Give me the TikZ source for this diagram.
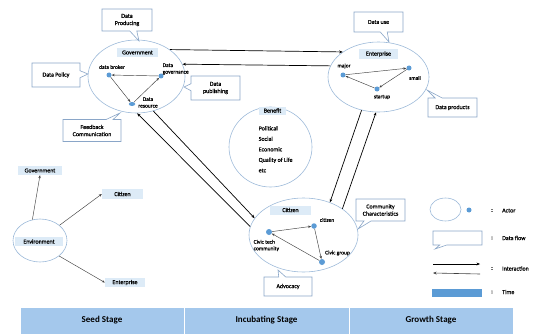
\documentclass[tikz,border=0pt]{standalone}
\usepackage{fontspec}
\setmainfont{Carlito}
\newfontfamily\heavy{Carlito}[FakeBold=0.6]
\usetikzlibrary{shapes.geometric,shapes.callouts,arrows.meta}

\definecolor{ringblue}{HTML}{9DBAD9}
\definecolor{boxline}{HTML}{8AA6C8}
\definecolor{tagfill}{HTML}{DDEBF7}
\definecolor{dotblue}{HTML}{5B9BD5}
\definecolor{bandblue}{HTML}{A4C8EC}
\definecolor{linkgray}{HTML}{404040}

\tikzset{
  actor/.style={ellipse, draw=ringblue, line width=0.6pt, inner sep=0pt},
  tag/.style={fill=tagfill, inner sep=0pt, font=\heavy\fontsize{6}{7}\selectfont},
  agent/.style={circle, fill=dotblue, inner sep=0pt, minimum size=5pt},
  small/.style={font=\heavy\fontsize{5.5}{6.6}\selectfont, inner sep=0pt},
  flowbox/.style={rectangle callout, draw=boxline, fill=white, line width=0.6pt,
    callout pointer width=7pt, align=center, font=\heavy\fontsize{6}{7.2}\selectfont, inner sep=0pt},
  link/.style={draw=linkgray, line width=0.45pt, -{Stealth[length=3pt,width=2.4pt]}},
  interact/.style={draw=black, line width=0.7pt, -{Stealth[length=3.5pt,width=2.8pt]}},
  stagebox/.style={fill=bandblue, draw=white, line width=0.8pt, minimum height=27pt,
    minimum width=165pt, inner sep=0pt, font=\fontsize{9}{10}\selectfont\bfseries},
  legendtxt/.style={font=\heavy\fontsize{6}{7}\selectfont, inner sep=0pt, anchor=west},
}

\begin{document}
\begin{tikzpicture}[x=1pt, y=-1pt]
\useasboundingbox (0,0) rectangle (534,334);

% ---------- Government ----------
\node[actor, minimum width=97pt, minimum height=73pt] (gov) at (136.5,76.5) {};
\node[tag, minimum width=41pt, minimum height=9pt] (govtag) at (137.5,52.5) {Government};
\node[agent] (broker) at (109,75) {};
\node[agent, ellipse, minimum width=6.5pt, minimum height=4pt] (resource) at (132,104) {};
\node[agent] (governance) at (161,76) {};
\node[small] (brokerlbl) at (112,67) {data broker};
\node[small, anchor=west, align=left] (govlbl) at (162.5,69) {Data\\governance};
\node[small, align=center] (reslbl) at (148,102.5) {Data\\resource};
\draw[link] (broker) -- (resource);
\draw[link] (resource) -- (governance);
\draw[link] (governance) -- (broker);

% ---------- Enterprise ----------
\node[actor, minimum width=101pt, minimum height=70pt] (ent) at (378.5,77) {};
\node[tag, minimum width=39pt, minimum height=10pt] (enttag) at (378.5,54) {Enterprise};
\node[agent] (major) at (343,75) {};
\node[agent] (smallco) at (409,68) {};
\node[agent] (startup) at (377,89) {};
\node[small] (majorlbl) at (344,66) {major};
\node[small] (smalllbl) at (415,78) {small};
\node[small] (startuplbl) at (382,97) {startup};
\draw[link] (major) -- (smallco);
\draw[link] (smallco) -- (startup);
\draw[link] (startup) -- (major);

% ---------- Citizen ----------
\node[actor, minimum width=109pt, minimum height=74pt] (cit) at (303.5,235) {};
\node[tag, minimum width=41pt, minimum height=9pt] (cittag) at (290.5,210) {Citizen};
\node[agent, minimum size=6pt] (civictech) at (269,232) {};
\node[agent, minimum size=5.5pt] (citizen) at (314,226) {};
\node[agent, minimum size=6pt] (civicgroup) at (322,262) {};
\node[small, anchor=west, align=left] (techlbl) at (253.5,245.5) {Civic tech\\community};
\node[small] (citizenlbl) at (327,220) {citizen};
\node[small] (grouplbl) at (337.5,253) {Civic group};
\draw[link] (civictech) -- (citizen);
\draw[link] (citizen) -- (civicgroup);
\draw[link] (civicgroup) -- (civictech);

% ---------- Benefit ----------
\node[actor, minimum width=83pt, minimum height=80pt] (ben) at (270.5,147) {};
\node[tag, minimum width=27pt, minimum height=8pt] (bentag) at (272.5,110.5) {Benefit};
\node[anchor=north west, align=left, font=\heavy\fontsize{6}{10.5}\selectfont, inner sep=0pt]
  (benlist) at (258.5,126) {Political\\Social\\Economic\\Quality of Life\\etc};

% ---------- Environment (seed stage) ----------
\node[actor, minimum width=54pt, minimum height=43pt] (env) at (40,240.5) {};
\node[tag, minimum width=48pt, minimum height=9pt] (envtag) at (39,241.5) {Environment};
\node[tag, minimum width=44pt, minimum height=9pt] (govseed) at (40,170.5) {Government};
\node[tag, minimum width=41pt, minimum height=10pt] (citseed) at (122.5,194) {Citizen};
\node[tag, minimum width=40pt, minimum height=9pt] (entseed) at (125,282.5) {Enterprise};
\draw[link] (env.110) -- (govseed.south);
\draw[link] (env.38) -- (citseed.west);
\draw[link] (env.-39) -- (entseed.west);

% ---------- Interactions between actors ----------
\draw[interact] (gov.39) -- (ent.145);
\draw[interact] (ent.167) -- (gov.15);
\draw[interact] (cit.171) -- (gov.-89);
\draw[interact] (gov.-64) -- (cit.161);
\draw[interact] (ent.243) -- (cit.51);
\draw[interact] (cit.34) -- (ent.266);

% ---------- Data flows ----------
\node[flowbox, minimum width=50pt, minimum height=22pt, callout absolute pointer={(139,41)}]
  (producing) at (127,20) {Data\\Producing};
\node[flowbox, minimum width=48pt, minimum height=24pt, callout absolute pointer={(88,74)}]
  (policy) at (56,75) {Data Policy};
\node[flowbox, minimum width=49pt, minimum height=24pt, callout absolute pointer={(184,87)}]
  (publishing) at (215.5,88) {Data\\publishing};
\node[flowbox, minimum width=58pt, minimum height=22pt, callout absolute pointer={(120,113)}]
  (feedback) at (92,130.5) {Feedback\\Communication};
\node[flowbox, minimum width=49pt, minimum height=20pt, callout absolute pointer={(389,42)}]
  (datause) at (378.5,22) {Data use};
\node[flowbox, minimum width=49pt, minimum height=19pt, callout absolute pointer={(427,90)}]
  (products) at (452.5,107.5) {Data products};
\node[flowbox, minimum width=49pt, minimum height=22pt, callout absolute pointer={(358,229)}]
  (community) at (380.5,210) {Community\\Characteristics};
\node[flowbox, minimum width=48pt, minimum height=19pt, callout absolute pointer={(278,270)}]
  (advocacy) at (288,286.5) {Advocacy};

% ---------- Legend ----------
\node[actor, minimum width=31pt, minimum height=23pt] (keyactor) at (445.5,209.5) {};
\node[agent] (keydot) at (469,210) {};
\node[legendtxt] (c1) at (491,210.5) {:};
\node[legendtxt] (actortxt) at (502,210.5) {Actor};

\node[flowbox, minimum width=49pt, minimum height=14pt, callout absolute pointer={(435,249)}]
  (keyflow) at (457.5,238) {};
\node[legendtxt] (c2) at (491,238) {:};
\node[legendtxt] (flowtxt) at (502,238) {Data flow};

\coordinate (ia1) at (433,264);
\coordinate (ia2) at (480,264);
\coordinate (ib1) at (480,274);
\coordinate (ib2) at (433,273);
\draw[interact, line width=0.5pt] (ia1) -- (ia2);
\draw[interact, draw=linkgray, line width=0.6pt] (ib1) -- (ib2);
\node[legendtxt] (c3) at (491,268.5) {:};
\node[legendtxt] (interacttxt) at (502,268.5) {Interaction};

\node[fill=dotblue, minimum width=50pt, minimum height=8pt, inner sep=0pt] (keytime) at (457,292.5) {};
\node[legendtxt] (c4) at (491,292) {:};
\node[legendtxt] (timetxt) at (502,292) {Time};

% ---------- Stages ----------
\node[stagebox, minimum width=164pt] (seed) at (102,320.5) {\raisebox{-1.5pt}{Seed Stage}};
\node[stagebox] (incub) at (266.5,320.5) {\raisebox{-1.5pt}{Incubating Stage}};
\node[stagebox, minimum width=164pt] (growth) at (431,320.5) {\raisebox{-1.5pt}{Growth Stage}};
\end{tikzpicture}
\end{document}
